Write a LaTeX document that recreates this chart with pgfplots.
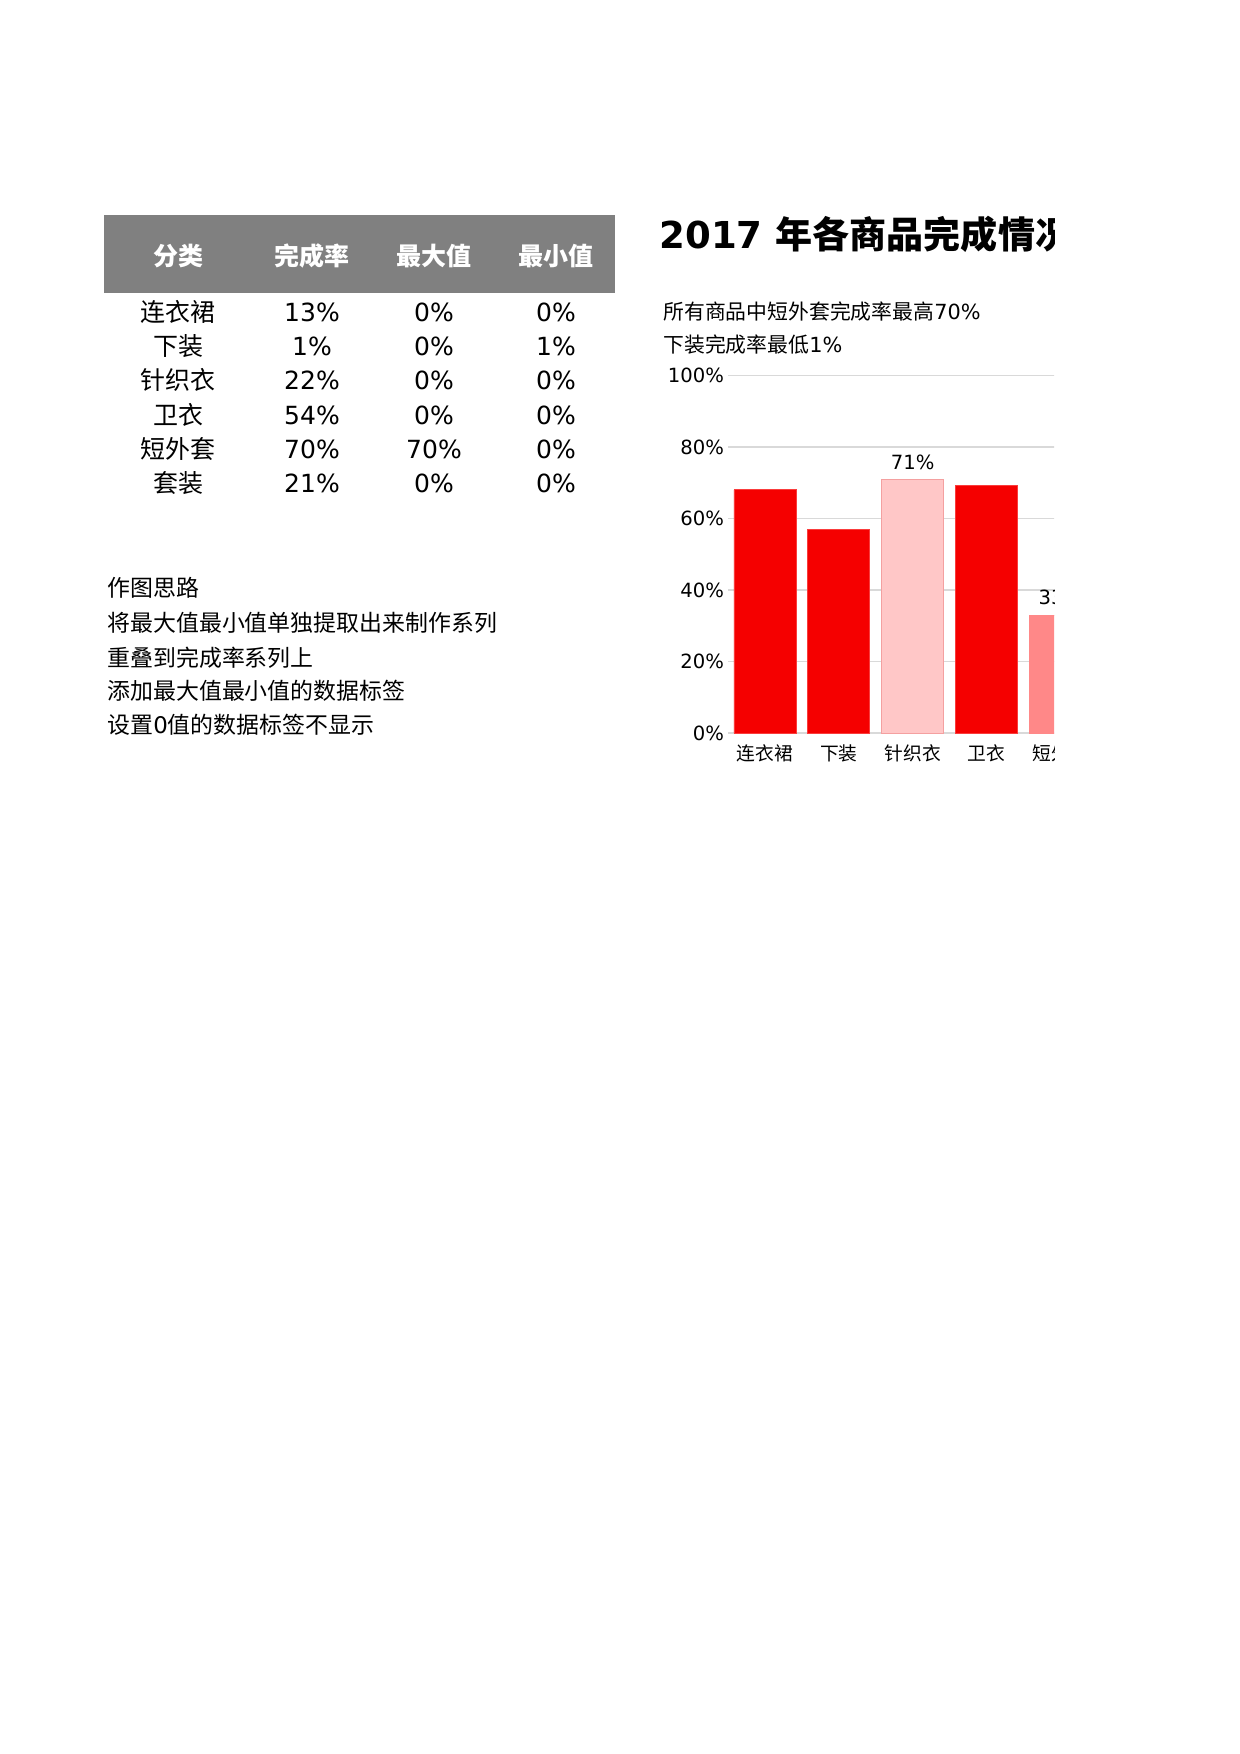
\documentclass[border=0pt]{standalone}
\usepackage{fontspec}
\setmainfont{DejaVu Sans}
\newfontfamily\cjk{Noto Sans CJK SC}
\usepackage{pgfplots}
\pgfplotsset{compat=1.18}
\definecolor{cred}{RGB}{245,0,0}
\definecolor{credb}{RGB}{250,60,60}
\definecolor{cpink}{RGB}{255,199,199}
\definecolor{cpinkb}{RGB}{244,160,160}
\definecolor{csalmon}{RGB}{255,136,136}
\definecolor{hdr}{RGB}{128,128,128}
\definecolor{gridc}{RGB}{217,217,217}
\newcommand{\fs}[1]{\fontsize{#1pt}{#1pt}\selectfont}
\begin{document}
\begin{tikzpicture}
\begin{scope}[x=0.48pt,y=-0.48pt]
\path[fill=white] (0,0) rectangle (1240,1754);
% table header
\fill[hdr] (104,215) rectangle (615,293);
\foreach \xx/\tt in {178/分类,312/完成率,434/最大值,556/最小值}{
  \node[text=white,inner sep=0pt] at (\xx,256) {\fs{12}\cjk\bfseries \tt};
}
% table rows
\foreach \yy/\nm/\a/\b/\c in {312/连衣裙/13/0/0, 346/下装/1/0/1, 380/针织衣/22/0/0, 415/卫衣/54/0/0, 449/短外套/70/70/0, 483/套装/21/0/0}{
  \node[inner sep=0pt] at (178,\yy) {\fs{12}\cjk \nm};
  \node[inner sep=0pt] at (312,\yy) {\fs{12}\a\%};
  \node[inner sep=0pt] at (434,\yy) {\fs{12}\b\%};
  \node[inner sep=0pt] at (556,\yy) {\fs{12}\c\%};
}
% notes
\node[anchor=west,inner sep=0pt] at (107,588) {\fs{11}\cjk 作图思路};
\node[anchor=west,inner sep=0pt] at (107,623) {\fs{11}\cjk 将最大值最小值单独提取出来制作系列};
\node[anchor=west,inner sep=0pt] at (107,658) {\fs{11}\cjk 重叠到完成率系列上};
\node[anchor=west,inner sep=0pt] at (107,691) {\fs{11}\cjk 添加最大值最小值的数据标签};
\node[anchor=west,inner sep=0pt] at (107,725) {\fs{11}{\cjk 设置}0{\cjk 值的数据标签不显示}};
\end{scope}
\begin{scope}
\clip (0pt,0pt) rectangle (505.92pt,-841.92pt);
\begin{scope}[x=0.48pt,y=-0.48pt]
\node[anchor=west,inner sep=0pt] at (659,234) {\fs{17.8}\bfseries 2017 {\cjk 年各商品完成情况}};
\node[anchor=west,inner sep=0pt] at (663,312) {\fs{10}{\cjk 所有商品中短外套完成率最高}70\%};
\node[anchor=west,inner sep=0pt] at (663,345) {\fs{10}{\cjk 下装完成率最低}1\%};
\end{scope}
\begin{axis}[
  at={(349.44pt,-351.84pt)}, anchor=south west,
  scale only axis, width=212.8pt, height=171.6pt,
  xmin=-0.5, xmax=5.5, ymin=0, ymax=1,
  axis line style={draw=none},
  major tick length=0pt,
  ytick={0,0.2,0.4,0.6,0.8,1},
  yticklabels={0\%,20\%,40\%,60\%,80\%,100\%},
  ymajorgrids, grid style={draw=gridc,line width=0.9pt},
  xtick={0,1,2,3,4,5},
  xticklabels={连衣裙,下装,针织衣,卫衣,短外套,套装},
  xticklabel style={font=\fs{9}\cjk,yshift=-2pt},
  yticklabel style={font=\fs{9.4},xshift=1.6pt},
  ybar, bar width=0.84, bar shift=0pt,
  clip=false,
  nodes near coords style={font=\fs{9.4},anchor=south,yshift=1.5pt},
]
\addplot[fill=cred,draw=credb,line width=0.4pt] coordinates {(0,0.680) (1,0.570) (3,0.692)};
\addplot[fill=cpink,draw=cpinkb,line width=0.4pt,point meta=explicit symbolic,nodes near coords] coordinates {(2,0.708) [71\%]};
\addplot[fill=csalmon,draw=csalmon,line width=0.4pt,point meta=explicit symbolic,nodes near coords] coordinates {(4,0.330) [33\%]};
\end{axis}
\end{scope}
\end{tikzpicture}
\end{document}
